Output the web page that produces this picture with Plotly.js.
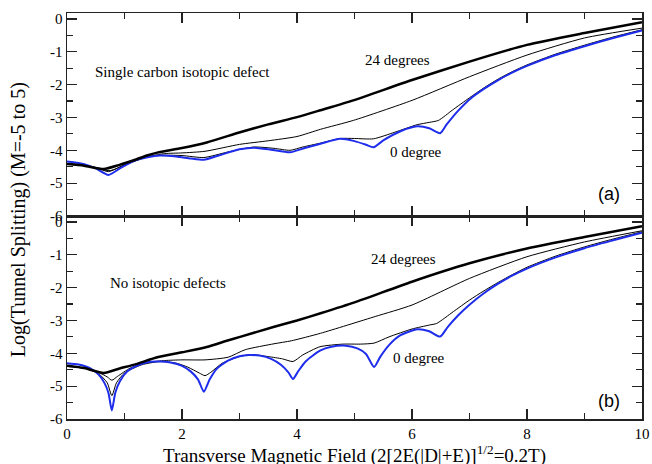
<!DOCTYPE html>
<html>
<head>
<meta charset="utf-8">
<script src="https://cdn.plot.ly/plotly-3.0.1.min.js"></script>
<style>html,body{margin:0;padding:0;background:#fff;}#chart{width:652px;height:464px;}</style>
</head>
<body>
<div id="chart"></div>
<script>
// ---- Panel (a): single carbon isotopic defect ----
const a_thick_x = [0, 0.3, 0.64, 0.9, 1.2, 1.39, 1.57, 2.0, 2.43, 3.01, 3.5, 4.0, 4.41, 4.98, 6, 7, 8, 9, 10];
const a_thick_y = [-4.42, -4.47, -4.57, -4.45, -4.28, -4.16, -4.07, -3.93, -3.76, -3.45, -3.21, -2.99, -2.78, -2.48, -1.86, -1.30, -0.79, -0.43, -0.10];

const a_thinA_x = [0, 0.3, 0.75, 1.0, 1.4, 1.7, 2.0, 2.4, 3.0, 3.5, 4.0, 4.41, 4.98, 6, 7, 8, 9, 10];
const a_thinA_y = [-4.42, -4.47, -4.62, -4.45, -4.2, -4.1, -4.08, -4.03, -3.82, -3.71, -3.58, -3.36, -3.09, -2.48, -1.76, -1.10, -0.58, -0.28];

const a_thinB_x = [0, 0.3, 0.5, 0.72, 0.95, 1.2, 1.4, 1.62, 2.0, 2.38, 2.8, 3.25, 3.6, 3.88, 4.1, 4.41, 4.75, 5.0, 5.33, 5.7, 6.09, 6.3, 6.46, 6.7, 7.0, 7.25, 7.5, 7.75, 8, 8.5, 9, 9.5, 10];
const a_thinB_y = [-4.40, -4.45, -4.52, -4.65, -4.48, -4.3, -4.2, -4.15, -4.16, -4.22, -4.05, -3.9, -3.94, -4.0, -3.9, -3.78, -3.64, -3.64, -3.65, -3.45, -3.22, -3.15, -3.09, -2.78, -2.40, -2.10, -1.83, -1.60, -1.40, -1.07, -0.80, -0.55, -0.33];

const a_blue_x = [0, 0.3, 0.5, 0.72, 0.95, 1.2, 1.4, 1.62, 1.9, 2.15, 2.38, 2.65, 3.0, 3.25, 3.55, 3.88, 4.15, 4.41, 4.75, 5.0, 5.2, 5.33, 5.5, 5.8, 6.09, 6.3, 6.49, 6.6, 6.8, 7.0, 7.25, 7.5, 7.75, 8, 8.5, 9, 9.5, 10];
const a_blue_y = [-4.34, -4.42, -4.55, -4.75, -4.52, -4.3, -4.21, -4.16, -4.19, -4.25, -4.29, -4.15, -3.97, -3.92, -3.98, -4.06, -3.92, -3.80, -3.65, -3.72, -3.83, -3.91, -3.7, -3.42, -3.27, -3.33, -3.48, -3.22, -2.8, -2.45, -2.13, -1.86, -1.63, -1.43, -1.10, -0.83, -0.58, -0.35];

// ---- Panel (b): no isotopic defects ----
const b_thick_x = [0, 0.3, 0.64, 0.9, 1.2, 1.57, 2.0, 2.43, 2.78, 3.01, 3.59, 4.0, 4.41, 5.0, 6, 7, 8, 9, 10];
const b_thick_y = [-4.38, -4.45, -4.60, -4.47, -4.33, -4.12, -3.97, -3.81, -3.62, -3.50, -3.2, -3.0, -2.78, -2.45, -1.82, -1.26, -0.81, -0.46, -0.13];

const b_thinA_x = [0, 0.3, 0.55, 0.7, 0.78, 0.88, 1.1, 1.4, 1.7, 2.0, 2.4, 2.8, 3.1, 3.6, 3.9, 4.41, 5.36, 6.0, 7.0, 8, 9, 10];
const b_thinA_y = [-4.40, -4.45, -4.58, -4.72, -4.82, -4.7, -4.45, -4.28, -4.22, -4.2, -4.2, -4.12, -3.89, -3.71, -3.62, -3.39, -2.88, -2.53, -1.72, -1.06, -0.61, -0.27];

const b_thinB_x = [0, 0.3, 0.55, 0.7, 0.78, 0.86, 1.0, 1.3, 1.62, 1.9, 2.1, 2.3, 2.4, 2.5, 2.7, 3.0, 3.2, 3.5, 3.75, 3.93, 4.1, 4.4, 4.8, 5.1, 5.34, 5.6, 6.0, 6.3, 6.43, 6.72, 7.0, 7.25, 7.5, 7.75, 8, 8.5, 9, 9.5, 10];
const b_thinB_y = [-4.38, -4.45, -4.62, -4.9, -5.29, -4.9, -4.6, -4.35, -4.25, -4.3, -4.42, -4.6, -4.68, -4.58, -4.3, -4.1, -4.04, -4.1, -4.17, -4.25, -4.05, -3.8, -3.72, -3.72, -3.69, -3.5, -3.26, -3.14, -3.09, -2.73, -2.38, -2.10, -1.84, -1.60, -1.38, -1.04, -0.76, -0.52, -0.30];

const b_blue_x = [0, 0.2, 0.4, 0.55, 0.65, 0.72, 0.78, 0.84, 0.92, 1.05, 1.25, 1.45, 1.62, 1.8, 2.0, 2.15, 2.28, 2.38, 2.48, 2.6, 2.8, 3.0, 3.16, 3.35, 3.55, 3.72, 3.85, 3.93, 4.02, 4.15, 4.4, 4.6, 4.85, 5.05, 5.2, 5.34, 5.45, 5.6, 5.8, 6.09, 6.3, 6.49, 6.62, 6.8, 7.0, 7.25, 7.5, 7.75, 8, 8.5, 9, 9.5, 10];
const b_blue_y = [-4.30, -4.34, -4.45, -4.65, -4.9, -5.2, -5.74, -5.2, -4.85, -4.55, -4.35, -4.26, -4.25, -4.28, -4.38, -4.55, -4.8, -5.17, -4.8, -4.48, -4.22, -4.09, -4.05, -4.07, -4.17, -4.35, -4.58, -4.78, -4.55, -4.25, -3.92, -3.8, -3.77, -3.85, -4.02, -4.42, -4.1, -3.75, -3.45, -3.27, -3.33, -3.49, -3.2, -2.85, -2.52, -2.17, -1.88, -1.63, -1.42, -1.08, -0.80, -0.56, -0.33];

// tick labels
const xTickVals = [0, 2, 4, 6, 8, 10];
const xTickText = ['0', '2', '4', '6', '8', '10'];
const yTickVals = [0, -1, -2, -3, -4, -5, -6];
const yTickText = ['0', '-1', '-2', '-3', '-4', '-5', '-6'];

const BLUE = 'rgb(30,45,235)';
const shp = 'spline', sm = 0.6;
function tr(x, y, xa, ya, color, w) {
  return {x: x, y: y, xaxis: xa, yaxis: ya, type: 'scatter', mode: 'lines',
          line: {color: color, width: w, shape: shp, smoothing: sm}, showlegend: false, hoverinfo: 'skip'};
}
const data = [
  tr(a_thinA_x, a_thinA_y, 'x', 'y', '#000', 1),
  tr(a_thinB_x, a_thinB_y, 'x', 'y', '#000', 1),
  tr(a_blue_x, a_blue_y, 'x', 'y', BLUE, 2),
  tr(a_thick_x, a_thick_y, 'x', 'y', '#000', 2.5),
  tr(b_thinA_x, b_thinA_y, 'x2', 'y2', '#000', 1),
  tr(b_thinB_x, b_thinB_y, 'x2', 'y2', '#000', 1),
  tr(b_blue_x, b_blue_y, 'x2', 'y2', BLUE, 2),
  tr(b_thick_x, b_thick_y, 'x2', 'y2', '#000', 2.5)
];

const serif = "'Liberation Serif', 'Times New Roman', serif";
const sans = "'Liberation Sans', Arial, sans-serif";
const axBase = {
  showline: true, linecolor: '#222', linewidth: 1.5, mirror: 'ticks',
  ticks: 'inside', ticklen: 10, tickwidth: 1.2, tickcolor: '#222',
  showgrid: false, zeroline: false,
  tickfont: {family: serif, size: 15, color: '#000'}
};
const xBase = Object.assign({}, axBase, {range: [0, 10], tickmode: 'array', tickvals: xTickVals, ticktext: xTickText,
  minor: {dtick: 1, tick0: 0, ticks: 'inside', ticklen: 6, tickwidth: 1.2, tickcolor: '#222', showgrid: false}});
const yBase = Object.assign({}, axBase, {range: [-6, 0.18], tickmode: 'array', tickvals: yTickVals, ticktext: yTickText,
  minor: {dtick: 0.5, tick0: 0, ticks: 'inside', ticklen: 6, tickwidth: 1.2, tickcolor: '#222', showgrid: false}});

const annFont = {family: serif, size: 15, color: '#000'};
const layout = {
  width: 652, height: 464,
  margin: {l: 67, r: 10, t: 13, b: 45},
  paper_bgcolor: '#fff', plot_bgcolor: '#fff',
  xaxis: Object.assign({}, xBase, {anchor: 'y', domain: [0, 1], showticklabels: false}),
  yaxis: Object.assign({}, yBase, {anchor: 'x', domain: [0.5, 1]}),
  xaxis2: Object.assign({}, xBase, {anchor: 'y2', domain: [0, 1]}),
  yaxis2: Object.assign({}, yBase, {anchor: 'x2', domain: [0, 0.5]}),
  annotations: [
    {xref: 'x', yref: 'y', x: 0.46, y: -1.62, xanchor: 'left', yanchor: 'middle', text: 'Single carbon isotopic defect', showarrow: false, font: annFont},
    {xref: 'x', yref: 'y', x: 5.74, y: -1.25, xanchor: 'center', yanchor: 'middle', text: '24 degrees', showarrow: false, font: annFont},
    {xref: 'x', yref: 'y', x: 6.07, y: -4.04, xanchor: 'center', yanchor: 'middle', text: '0 degree', showarrow: false, font: annFont},
    {xref: 'x', yref: 'y', x: 9.42, y: -5.33, xanchor: 'center', yanchor: 'middle', text: '(a)', showarrow: false, font: {family: sans, size: 18, color: '#000'}},
    {xref: 'x2', yref: 'y2', x: 0.72, y: -1.86, xanchor: 'left', yanchor: 'middle', text: 'No isotopic defects', showarrow: false, font: annFont},
    {xref: 'x2', yref: 'y2', x: 5.86, y: -1.13, xanchor: 'center', yanchor: 'middle', text: '24 degrees', showarrow: false, font: annFont},
    {xref: 'x2', yref: 'y2', x: 6.13, y: -4.14, xanchor: 'center', yanchor: 'middle', text: '0 degree', showarrow: false, font: annFont},
    {xref: 'x2', yref: 'y2', x: 9.42, y: -5.44, xanchor: 'center', yanchor: 'middle', text: '(b)', showarrow: false, font: {family: sans, size: 18, color: '#000'}},
    {xref: 'paper', yref: 'paper', x: -0.085, y: 0.49, xanchor: 'center', yanchor: 'middle', textangle: -90,
     text: 'Log(Tunnel Splitting) (M=-5 to 5)', showarrow: false, font: {family: serif, size: 20, color: '#000'}},
    {xref: 'paper', yref: 'paper', x: 0.5, y: -0.088, xanchor: 'center', yanchor: 'middle',
     text: 'Transverse Magnetic Field (2[2E(|D|+E)]<sup>1/2</sup>=0.2T)', showarrow: false, font: {family: serif, size: 19, color: '#000'}}
  ]
};
Plotly.newPlot('chart', data, layout, {staticPlot: true, displayModeBar: false});
</script>
</body>
</html>
